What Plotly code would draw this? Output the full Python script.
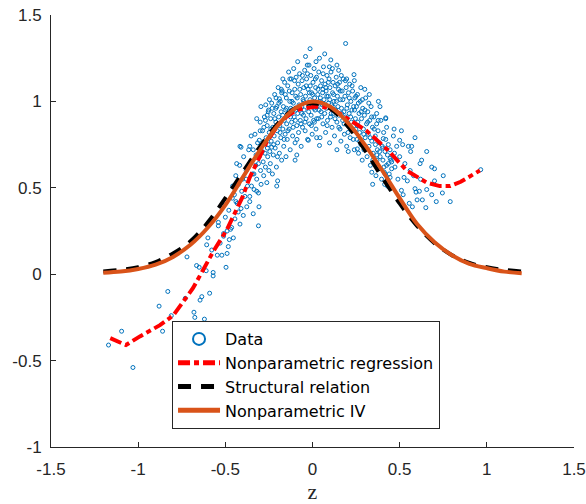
import plotly.graph_objects as go

# ---------------- data ----------------
data_points = [
    # left tail
    (-1.17, -0.41), (-1.095, -0.33), (-1.03, -0.54), (-0.88, -0.185), (-0.86, -0.33),
    (-0.83, -0.10), (-0.81, -0.24), (-0.72, 0.10), (-0.73, -0.14), (-0.68, -0.22),
    (-0.675, -0.25), (-0.665, 0.05), (-0.65, 0.04), (-0.645, -0.15), (-0.635, -0.13),
    (-0.62, -0.26), (-0.61, 0.02), (-0.60, 0.21), (-0.607, 0.17), (-0.59, -0.11),
    (-0.57, 0.01), (-0.57, -0.01), (-0.578, 0.14), (-0.546, 0.11), (-0.54, 0.28),
    (-0.52, 0.11), (-0.51, 0.235), (-0.496, 0.04), (-0.49, 0.25), (-0.483, 0.16),
    (-0.477, 0.20), (-0.464, 0.27), (-0.454, 0.21), (-0.458, 0.51), (-0.445, 0.32),
    (-0.435, 0.64), (-0.439, 0.42), (-0.426, 0.36), (-0.416, 0.74), (-0.416, 0.29),
    (-0.406, 0.48), (-0.397, 0.34), (-0.38, 0.55), (-0.377, 0.39), (-0.368, 0.62),
    (-0.36, 0.45), (-0.35, 0.51), (-0.34, 0.35), (-0.336, 0.58), (-0.324, 0.69),
    (-0.32, 0.48), (-0.31, 0.28), (-0.31, 0.64), (-0.307, 0.39),
    (-0.54, 0.30), (-0.53, 0.18), (-0.52, 0.40), (-0.51, 0.22), (-0.50, 0.33),
    (-0.49, 0.12), (-0.48, 0.37), (-0.47, 0.26), (-0.46, 0.44),
    (-0.448, 0.46), (-0.44, 0.57), (-0.432, 0.41), (-0.425, 0.52), (-0.418, 0.63),
    (-0.41, 0.38), (-0.402, 0.55), (-0.395, 0.68), (-0.388, 0.45), (-0.38, 0.60),
    (-0.373, 0.51), (-0.366, 0.72), (-0.36, 0.42), (-0.355, 0.65), (-0.352, 0.80),
    # right tail
    (0.965, 0.605), (0.79, 0.42), (0.75, 0.57), (0.745, 0.47), (0.71, 0.42),
    (0.70, 0.61), (0.70, 0.54), (0.684, 0.62), (0.684, 0.46), (0.655, 0.71),
    (0.655, 0.49), (0.65, 0.385), (0.63, 0.43), (0.626, 0.66), (0.617, 0.64),
    (0.613, 0.48), (0.60, 0.43), (0.588, 0.79), (0.588, 0.495), (0.594, 0.475),
    (0.573, 0.39), (0.569, 0.74), (0.563, 0.71), (0.555, 0.41), (0.55, 0.74),
    (0.544, 0.54), (0.52, 0.46), (0.51, 0.485), (0.525, 0.56), (0.51, 0.83),
    (0.50, 0.775), (0.517, 0.75), (0.49, 0.55), (0.483, 0.74), (0.473, 0.62),
    (0.468, 0.84), (0.464, 0.80), (0.454, 0.65), (0.454, 0.61), (0.445, 0.67),
    (0.445, 0.56), (0.435, 0.64), (0.43, 0.55), (0.425, 0.85), (0.42, 0.905),
    (0.416, 0.58), (0.41, 0.62), (0.406, 0.785), (0.403, 0.73), (0.414, 0.52),
    (0.43, 0.51), (0.47, 0.70), (0.50, 0.68), (0.53, 0.64), (0.56, 0.60),
    (0.58, 0.57), (0.62, 0.55),
    # upper outliers / edges of the cloud
    (0.19, 1.335), (-0.014, 1.305), (0.07, 1.275), (0.04, 1.25), (-0.085, 1.23),
    (0.14, 1.21), (0.097, 1.20), (-0.03, 1.21), (0.02, 1.23), (0.196, 1.13),
    (0.238, 1.155), (0.277, 1.08), (0.326, 1.04), (0.378, 1.00), (0.387, 0.97),
    (0.368, 0.93), (0.42, 0.90), (-0.13, 1.13), (-0.177, 1.05), (-0.19, 1.015),
    (-0.254, 0.94), (-0.27, 0.89), (-0.30, 0.83), (-0.41, 0.735), (-0.305, 0.775),
    (-0.234, 0.735), (-0.20, 0.54), (-0.205, 0.51), (-0.10, 0.66), (-0.09, 0.69),
    (0.04, 0.745), (0.14, 0.72), (0.205, 0.71), (0.257, 0.725), (0.345, 0.52),
    (0.34, 0.59), (0.37, 0.66), (-0.024, 0.775), (0.024, 0.79),
    (-0.04, 1.26), (0.105, 1.24), (0.15, 1.18), (-0.17, 1.13), (0.24, 1.12),
    (0.30, 1.07), (0.165, 1.15), (0.06, 1.07),
    # core of the cloud
    (-0.345, 0.58), (-0.34, 0.72), (-0.335, 0.49), (-0.33, 0.81), (-0.325, 0.63),
    (-0.32, 0.55), (-0.315, 0.76), (-0.31, 0.47), (-0.305, 0.68), (-0.30, 0.88),
    (-0.298, 0.60), (-0.295, 0.52), (-0.29, 0.74), (-0.287, 0.83), (-0.283, 0.65),
    (-0.28, 0.57), (-0.276, 0.91), (-0.272, 0.70), (-0.27, 0.62), (-0.266, 0.79),
    (-0.262, 0.53), (-0.26, 0.86), (-0.257, 0.68), (-0.254, 0.75), (-0.25, 0.60),
    (-0.252, 0.95), (-0.32, 0.90), (-0.36, 0.74), (-0.26, 0.92), (-0.21, 0.96),
    (-0.248, 0.82), (-0.245, 0.71), (-0.242, 0.64), (-0.24, 0.90), (-0.237, 0.77),
    (-0.234, 0.99), (-0.23, 0.58), (-0.228, 0.85), (-0.225, 0.69), (-0.222, 0.93),
    (-0.22, 0.80), (-0.217, 1.04), (-0.214, 0.73), (-0.21, 0.88), (-0.207, 0.62),
    (-0.205, 0.97), (-0.202, 0.83), (-0.20, 0.76), (-0.197, 1.08), (-0.194, 0.91),
    (-0.19, 0.70), (-0.188, 0.86), (-0.185, 1.00), (-0.182, 0.79), (-0.18, 0.94),
    (-0.177, 0.66), (-0.174, 1.06), (-0.17, 0.84), (-0.167, 0.97), (-0.165, 0.74),
    (-0.162, 0.89), (-0.16, 1.11), (-0.157, 0.81), (-0.154, 0.95), (-0.152, 0.68),
    (-0.15, 1.02),
    (-0.148, 0.87), (-0.145, 0.78), (-0.142, 1.09), (-0.14, 0.93), (-0.137, 1.17),
    (-0.134, 0.84), (-0.13, 1.00), (-0.128, 0.72), (-0.125, 0.96), (-0.122, 1.13),
    (-0.12, 0.88), (-0.117, 1.05), (-0.114, 0.80), (-0.11, 0.99), (-0.108, 1.19),
    (-0.105, 0.91), (-0.102, 1.07), (-0.10, 0.76), (-0.097, 0.95), (-0.094, 1.14),
    (-0.09, 0.86), (-0.088, 1.02), (-0.085, 0.93), (-0.082, 1.10), (-0.08, 0.82),
    (-0.077, 0.98), (-0.074, 1.16), (-0.07, 0.89), (-0.068, 1.04), (-0.065, 0.74),
    (-0.062, 0.97), (-0.06, 1.12), (-0.057, 0.85), (-0.054, 1.01), (-0.052, 0.92),
    (-0.05, 1.08), (-0.12, 0.95), (-0.098, 0.89), (-0.062, 0.93),
    (-0.048, 0.95), (-0.045, 1.18), (-0.042, 0.83), (-0.04, 1.03), (-0.037, 0.90),
    (-0.034, 1.13), (-0.03, 0.99), (-0.028, 0.78), (-0.025, 1.07), (-0.022, 0.94),
    (-0.02, 1.21), (-0.017, 0.87), (-0.014, 1.01), (-0.01, 1.15), (-0.008, 0.92),
    (-0.005, 1.05), (-0.002, 0.81), (0.0, 0.98), (0.003, 1.11), (0.006, 0.89),
    (0.009, 1.19), (0.012, 1.02), (0.015, 0.95), (0.018, 1.08), (0.02, 0.84),
    (0.023, 1.14), (0.026, 0.97), (0.03, 1.04), (0.033, 0.90), (0.036, 1.17),
    (0.04, 1.00), (0.043, 0.79), (0.046, 1.09), (0.049, 0.94),
    (-0.018, 1.05), (0.011, 0.88), (0.047, 0.99),
    (0.052, 1.12), (0.055, 0.98), (0.058, 1.05), (0.06, 0.87), (0.063, 1.20),
    (0.066, 1.01), (0.07, 0.93), (0.072, 1.10), (0.075, 0.82), (0.078, 1.06),
    (0.08, 0.96), (0.083, 1.15), (0.086, 0.89), (0.09, 1.03), (0.092, 0.99),
    (0.095, 1.13), (0.098, 0.76), (0.10, 1.08), (0.103, 0.91), (0.106, 1.17),
    (0.11, 0.98), (0.112, 0.85), (0.115, 1.05), (0.118, 1.11), (0.12, 0.93),
    (0.123, 1.00), (0.126, 0.80), (0.13, 1.09), (0.133, 0.95), (0.136, 1.14),
    (0.14, 0.88), (0.143, 1.03), (0.146, 0.97), (0.149, 1.07),
    (0.082, 1.03), (0.118, 0.97),
    (0.152, 0.92), (0.155, 1.11), (0.158, 0.84), (0.16, 1.01), (0.163, 0.77),
    (0.166, 0.96), (0.17, 1.06), (0.173, 0.89), (0.176, 1.13), (0.18, 0.94),
    (0.183, 0.81), (0.186, 1.03), (0.19, 0.91), (0.193, 1.08), (0.196, 0.74),
    (0.20, 0.98), (0.203, 0.86), (0.206, 1.05), (0.21, 0.93), (0.213, 1.10),
    (0.216, 0.79), (0.22, 1.00), (0.223, 0.88), (0.226, 0.95), (0.23, 1.06),
    (0.233, 0.83), (0.236, 0.97), (0.24, 0.72), (0.243, 1.02), (0.246, 0.90),
    (0.249, 0.84),
    (0.252, 0.97), (0.255, 0.78), (0.258, 1.04), (0.26, 0.88), (0.264, 0.70),
    (0.267, 0.93), (0.27, 0.82), (0.274, 1.00), (0.278, 0.75), (0.281, 0.90),
    (0.285, 0.66), (0.288, 0.96), (0.292, 0.84), (0.295, 0.72), (0.298, 0.92),
    (0.302, 0.79), (0.305, 1.02), (0.31, 0.87), (0.313, 0.68), (0.317, 0.94),
    (0.32, 0.81), (0.324, 0.74), (0.328, 0.89), (0.332, 0.63), (0.336, 0.97),
    (0.34, 0.77), (0.344, 0.85), (0.348, 0.70),
    (0.352, 0.91), (0.356, 0.64), (0.36, 0.80), (0.364, 0.57), (0.368, 0.87),
    (0.372, 0.72), (0.376, 0.83), (0.38, 0.61), (0.384, 0.76), (0.388, 0.68),
    (0.392, 0.89), (0.396, 0.55), (0.40, 0.74), (0.404, 0.66), (0.408, 0.82),
    (0.412, 0.59), (0.416, 0.71), (0.42, 0.78), (0.425, 0.63), (0.43, 0.69),
    (0.435, 0.75), (0.44, 0.58), (0.445, 0.72), (0.45, 0.66),
    # second pass over the dense core
    (-0.296, 0.97), (-0.288, 0.71), (-0.279, 0.85), (-0.268, 0.98), (-0.259, 0.73),
    (-0.247, 1.01), (-0.239, 0.84), (-0.231, 0.96), (-0.223, 0.75), (-0.216, 0.90),
    (-0.209, 1.02), (-0.201, 0.68), (-0.193, 0.99), (-0.186, 0.82), (-0.179, 1.07),
    (-0.171, 0.92), (-0.163, 0.78), (-0.156, 1.04), (-0.149, 0.96), (-0.141, 0.83),
    (-0.133, 1.06), (-0.126, 0.91), (-0.118, 1.00), (-0.111, 0.85), (-0.103, 1.12),
    (-0.096, 1.03), (-0.089, 0.78), (-0.081, 0.96), (-0.073, 1.07), (-0.066, 0.87),
    (-0.058, 1.15), (-0.051, 1.00), (-0.043, 0.88), (-0.036, 1.09), (-0.029, 1.16),
    (-0.021, 0.97), (-0.013, 1.09), (-0.006, 0.86), (0.001, 1.04), (0.008, 0.96),
    (0.016, 1.13), (0.024, 0.90), (0.031, 1.07), (0.038, 0.95), (0.045, 1.02),
    (0.053, 0.91), (0.061, 1.16), (0.068, 0.98), (0.076, 1.08), (0.084, 0.86),
    (0.091, 1.11), (0.099, 1.01), (0.107, 0.93), (0.114, 1.19), (0.121, 1.04),
    (0.129, 0.90), (0.137, 1.00), (0.144, 1.10), (0.151, 0.85), (0.159, 1.06),
    (0.167, 0.93), (0.174, 1.01), (0.181, 0.87), (0.189, 1.12), (0.197, 0.96),
    (0.204, 0.82), (0.211, 1.02), (0.219, 0.91), (0.227, 1.09), (0.234, 0.78),
    (0.241, 0.95), (0.249, 1.03), (0.256, 0.86), (0.263, 0.99), (0.271, 0.77),
    (0.279, 0.94), (0.286, 1.01), (0.294, 0.81), (0.301, 0.95), (0.309, 0.73),
    (0.316, 0.88), (0.323, 0.99), (0.331, 0.79), (0.339, 0.91), (0.346, 0.66),
    (0.354, 0.84), (0.361, 0.75), (0.369, 0.69), (0.377, 0.89), (0.385, 0.71),
]
data_x = [p[0] for p in data_points]
data_y = [p[1] for p in data_points]

reg_x = [-1.16, -1.07, -0.99, -0.875, -0.80, -0.685, -0.63, -0.57, -0.49, -0.40, -0.36,
         -0.30, -0.26, -0.20, -0.15, -0.10, -0.05, 0.02, 0.08, 0.14, 0.20, 0.31, 0.43,
         0.54, 0.655, 0.73, 0.79, 0.85, 0.96]
reg_y = [-0.37, -0.41, -0.36, -0.295, -0.24, -0.08, 0.02, 0.13, 0.26, 0.45, 0.56,
         0.69, 0.77, 0.86, 0.91, 0.945, 0.96, 0.97, 0.965, 0.94, 0.90, 0.83, 0.72,
         0.60, 0.53, 0.51, 0.51, 0.535, 0.60]

curve_x = [-1.2, -1.1, -1.0, -0.9, -0.8, -0.7, -0.6, -0.5, -0.4, -0.3, -0.2, -0.1, 0.0,
           0.1, 0.2, 0.3, 0.4, 0.5, 0.6, 0.7, 0.8, 0.9, 1.0, 1.1, 1.2]
struct_y = [0.015, 0.025, 0.04, 0.07, 0.12, 0.19, 0.30, 0.44, 0.59, 0.74, 0.87, 0.96, 0.99,
            0.96, 0.86, 0.72, 0.56, 0.41, 0.28, 0.18, 0.11, 0.065, 0.04, 0.025, 0.015]
iv_y = [0.008, 0.015, 0.03, 0.055, 0.10, 0.17, 0.27, 0.40, 0.56, 0.72, 0.86, 0.96, 1.0,
        0.97, 0.88, 0.75, 0.60, 0.44, 0.29, 0.185, 0.11, 0.06, 0.035, 0.015, 0.005]

x_ticks = [-1.5, -1.0, -0.5, 0.0, 0.5, 1.0, 1.5]
x_tick_text = ["-1.5", "-1", "-0.5", "0", "0.5", "1", "1.5"]
y_ticks = [-1.0, -0.5, 0.0, 0.5, 1.0, 1.5]
y_tick_text = ["-1", "-0.5", "0", "0.5", "1", "1.5"]

BLUE = "#0072BD"
ORANGE = "#D95319"
AX = "#262626"
FONT = "Liberation Sans, Arial, sans-serif"
LEGEND_FONT = "DejaVu Sans, sans-serif"

fig = go.Figure()
fig.add_trace(go.Scatter(
    x=data_x, y=data_y, mode="markers", name="Data",
    marker=dict(symbol="circle-open", size=4, color=BLUE, line=dict(width=1, color=BLUE)),
))
fig.add_trace(go.Scatter(
    x=reg_x, y=reg_y, mode="lines", name="Nonparametric regression",
    line=dict(color="#FF0000", width=4, dash="12px,4px,5px,4px"),
))
fig.add_trace(go.Scatter(
    x=curve_x, y=struct_y, mode="lines", name="Structural relation",
    line=dict(color="#000000", width=4, dash="13px,10px", shape="spline"),
))
fig.add_trace(go.Scatter(
    x=curve_x, y=iv_y, mode="lines", name="Nonparametric IV",
    line=dict(color=ORANGE, width=4, shape="spline"),
))

axis_common = dict(
    showline=True, linecolor=AX, linewidth=1, ticks="inside", ticklen=5,
    tickcolor=AX, tickwidth=1, showgrid=False, zeroline=False, automargin=False,
    tickfont=dict(family=FONT, size=17, color=AX), mirror=False,
)
fig.update_xaxes(range=[-1.5, 1.5], tickvals=x_ticks, ticktext=x_tick_text,
                 ticklabelstandoff=7,
                 title=dict(text="z", font=dict(family="Liberation Serif, serif",
                                                size=22, color=AX), standoff=5),
                 **axis_common)
fig.update_yaxes(range=[-1, 1.5], tickvals=y_ticks, ticktext=y_tick_text,
                 ticklabelstandoff=5, **axis_common)

fig.update_layout(
    width=586, height=504,
    margin=dict(l=51, r=12, t=15, b=57, autoexpand=False),
    paper_bgcolor="white", plot_bgcolor="white",
    showlegend=True,
    legend=dict(
        x=0.2314, y=0.2917, xanchor="left", yanchor="top",
        bgcolor="white", bordercolor=AX, borderwidth=1,
        font=dict(family=LEGEND_FONT, size=16, color="#000000"),
        itemsizing="constant", itemwidth=42,
    ),
)

fig.write_html("out.html")
